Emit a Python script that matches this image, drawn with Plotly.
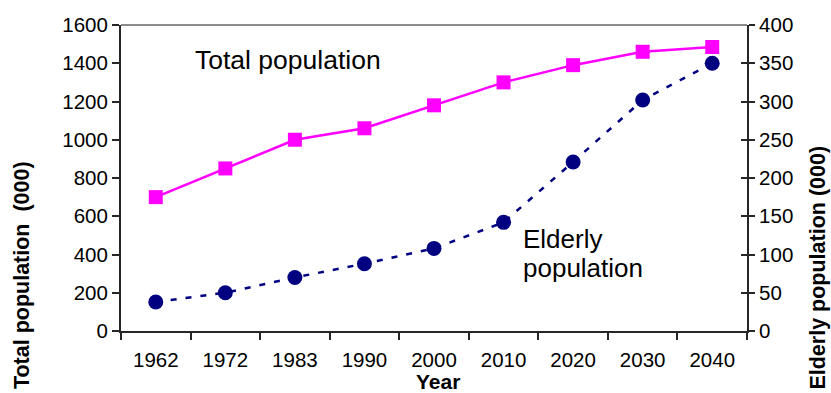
import plotly.graph_objects as go

years = ["1962", "1972", "1983", "1990", "2000", "2010", "2020", "2030", "2040"]
total_population = [700, 850, 1000, 1060, 1180, 1300, 1390, 1460, 1485]
elderly_population = [38, 50, 70, 88, 108, 142, 221, 302, 350]

FONT = "Liberation Sans, Arial, sans-serif"
DARK = "#262626"
TICK_SIZE = 20.5

fig = go.Figure()

fig.add_trace(go.Scatter(
    x=years, y=total_population, mode="lines+markers",
    line=dict(color="#FF00FF", width=2.5),
    marker=dict(symbol="square", size=14, color="#FF00FF"),
    yaxis="y", showlegend=False,
))

fig.add_trace(go.Scatter(
    x=years, y=elderly_population, mode="lines+markers",
    line=dict(color="#000080", width=2.5, dash="6px,9px"),
    marker=dict(symbol="circle", size=15, color="#000080"),
    yaxis="y2", showlegend=False,
))

# invisible trace so the tick-only overlay axis gets drawn
fig.add_trace(go.Scatter(x=[years[0]], y=[0], yaxis="y3", mode="markers",
                         marker=dict(opacity=0), showlegend=False, hoverinfo="skip"))

fig.update_layout(
    width=831, height=393,
    margin=dict(l=121, r=84, t=25, b=62),
    paper_bgcolor="white", plot_bgcolor="white",
    font=dict(family=FONT, size=18, color="black"),
    xaxis=dict(
        type="category", tickson="boundaries",
        ticks="outside", ticklen=7, tickcolor=DARK, tickwidth=1.5,
        showline=True, linecolor=DARK, linewidth=2,
        showgrid=False, zeroline=False,
        tickfont=dict(size=TICK_SIZE), ticklabelstandoff=9,
        range=[-0.5, 8.5],
    ),
    yaxis=dict(
        range=[0, 1600], dtick=200,
        ticks="outside", ticklen=7, tickcolor=DARK, tickwidth=1.5,
        showline=True, linecolor=DARK, linewidth=2,
        showgrid=False, zeroline=False,
        tickfont=dict(size=TICK_SIZE),
    ),
    yaxis2=dict(
        range=[0, 400], dtick=50, overlaying="y", side="right",
        ticks="outside", ticklen=6, tickcolor=DARK, tickwidth=1.5,
        showline=True, linecolor=DARK, linewidth=2,
        showgrid=False, zeroline=False,
        tickfont=dict(size=TICK_SIZE),
    ),
    yaxis3=dict(
        range=[0, 400], dtick=50, overlaying="y", side="right",
        ticks="inside", ticklen=6, tickcolor=DARK, tickwidth=1.5,
        showticklabels=False, showline=False,
        showgrid=False, zeroline=False,
    ),
    shapes=[dict(
        type="line", xref="paper", yref="paper", x0=0, x1=1, y0=1, y1=1,
        line=dict(color="#8c8c8c", width=2),
    )],
    annotations=[
        # axis titles
        dict(text="<b>Total population&nbsp;&nbsp;(000)</b>", x=-0.158, y=0.183,
             xref="paper", yref="paper", textangle=-90, showarrow=False,
             xanchor="center", yanchor="middle", font=dict(size=21.5)),
        dict(text="<b>Elderly population (000)</b>", x=1.112, y=0.2075,
             xref="paper", yref="paper", textangle=-90, showarrow=False,
             xanchor="center", yanchor="middle", font=dict(size=21.5)),
        dict(text="<b>Year</b>", x=0.506, y=-0.166, xref="paper", yref="paper",
             showarrow=False, xanchor="center", yanchor="middle", font=dict(size=21),
             borderpad=0),
        # series labels
        dict(text="Total population", x=0.115, y=0.885, xref="paper", yref="paper",
             xanchor="left", yanchor="middle", showarrow=False,
             font=dict(size=26.5, color="black")),
        dict(text="Elderly", x=0.639, y=0.3007, xref="paper", yref="paper",
             xanchor="left", yanchor="middle", showarrow=False,
             font=dict(size=26, color="black")),
        dict(text="population", x=0.639, y=0.206, xref="paper", yref="paper",
             xanchor="left", yanchor="middle", showarrow=False,
             font=dict(size=26, color="black")),
    ],
)

fig.write_html("out.html")
